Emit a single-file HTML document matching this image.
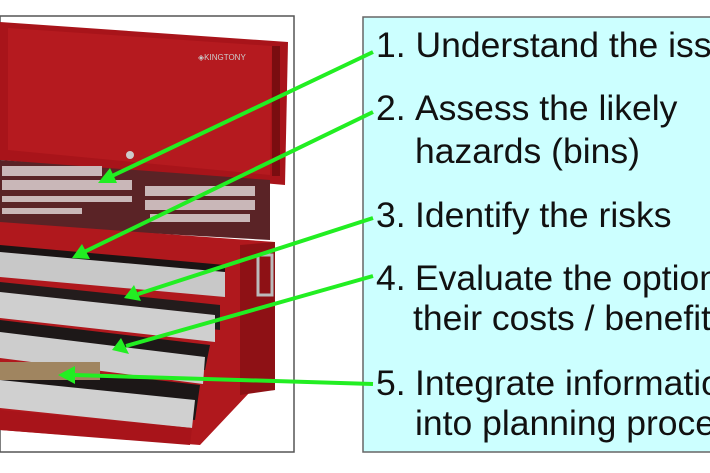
<!DOCTYPE html>
<html><head><style>
html,body{margin:0;padding:0;background:#fff;}
body{width:710px;height:473px;overflow:hidden;position:relative;font-family:"Liberation Sans",Arial,sans-serif;}
</style></head><body>
<svg width="710" height="473" viewBox="0 0 710 473" xmlns="http://www.w3.org/2000/svg" style="position:absolute;left:0;top:0">
<rect x="0" y="16" width="294" height="436" fill="#fff" stroke="#555" stroke-width="1.5"/>
<!-- lid -->
<polygon points="0,22 288,42 285,185 0,160" fill="#a8141a"/>
<polygon points="8,28 272,46 270,175 8,150" fill="#b51a1f"/>
<rect x="272" y="46" width="8" height="130" fill="#7a0d10"/>
<text x="198" y="60" font-size="8" fill="#ccc" font-family="Liberation Sans">◈KINGTONY</text>
<circle cx="130" cy="155" r="4" fill="#ccc"/>
<!-- tray -->
<polygon points="0,160 270,180 270,240 0,225" fill="#5a2326"/>
<g fill="#c9b7b8">
<rect x="2" y="166" width="100" height="10"/>
<rect x="2" y="180" width="130" height="10"/>
<rect x="145" y="186" width="110" height="10"/>
<rect x="145" y="200" width="110" height="10"/>
<rect x="2" y="196" width="130" height="6"/>
<rect x="150" y="214" width="100" height="8"/>
<rect x="2" y="208" width="80" height="6"/>
</g>
<!-- body -->
<polygon points="0,222 275,242 275,390 250,392 200,445 0,430" fill="#b0181d"/>
<polygon points="240,245 275,242 275,390 240,395" fill="#8e1115"/>
<rect x="258" y="255" width="14" height="40" fill="none" stroke="#bbb" stroke-width="3"/>
<!-- drawers -->
<polygon points="0,245 225,265 225,290 0,270" fill="#1a1414"/>
<polygon points="0,252 225,272 225,297 0,277" fill="#c8c8c8"/>
<polygon points="0,282 220,305 220,330 0,305" fill="#231c1c"/>
<polygon points="0,292 215,315 215,342 0,318" fill="#cfcfcf"/>
<polygon points="0,320 210,345 205,370 0,345" fill="#1d1818"/>
<polygon points="0,332 205,357 203,384 0,358" fill="#cdcdcd"/>
<polygon points="0,362 200,385 195,420 0,395" fill="#1c1717"/>
<rect x="0" y="362" width="100" height="18" fill="#a08560"/>
<polygon points="0,380 195,400 192,428 0,408" fill="#d0d0d0"/>
<polygon points="0,410 192,428 190,445 0,430" fill="#a8141a"/>
<!-- text box -->
<rect x="363" y="17" width="360" height="435" fill="#ccffff" stroke="#666" stroke-width="1.5"/>
<!-- arrows -->
<g stroke="#22ee22" stroke-width="4" fill="#22ee22">
<line x1="373" y1="52" x2="112" y2="176"/>
<line x1="373" y1="112" x2="84" y2="252"/>
<line x1="373" y1="218" x2="138" y2="294"/>
<line x1="373" y1="276" x2="126" y2="346"/>
<line x1="373" y1="384" x2="74" y2="375"/>
</g>
<g fill="#22ee22">
<polygon points="98,183 110,168 117,183"/>
<polygon points="72,258 82,244 90,259"/>
<polygon points="124,298 134,285 141,301"/>
<polygon points="112,350 121,338 129,354"/>
<polygon points="58,375 75,366 75,384"/>
</g>
<g font-family="Liberation Sans, Arial, sans-serif" font-size="35.5" fill="#111">
<text x="376" y="57">1. Understand the issues</text>
<text x="376" y="120">2.</text><text x="415" y="120">Assess the likely</text>
<text x="415" y="163">hazards (bins)</text>
<text x="376" y="227">3.</text><text x="415" y="227">Identify the risks</text>
<text x="376" y="290">4.</text><text x="415" y="290">Evaluate the options</text>
<text x="413" y="330">their costs / benefits</text>
<text x="376" y="395">5.</text><text x="415" y="395">Integrate information</text>
<text x="415" y="435">into planning process</text>
</g>
</svg>
</body></html>
